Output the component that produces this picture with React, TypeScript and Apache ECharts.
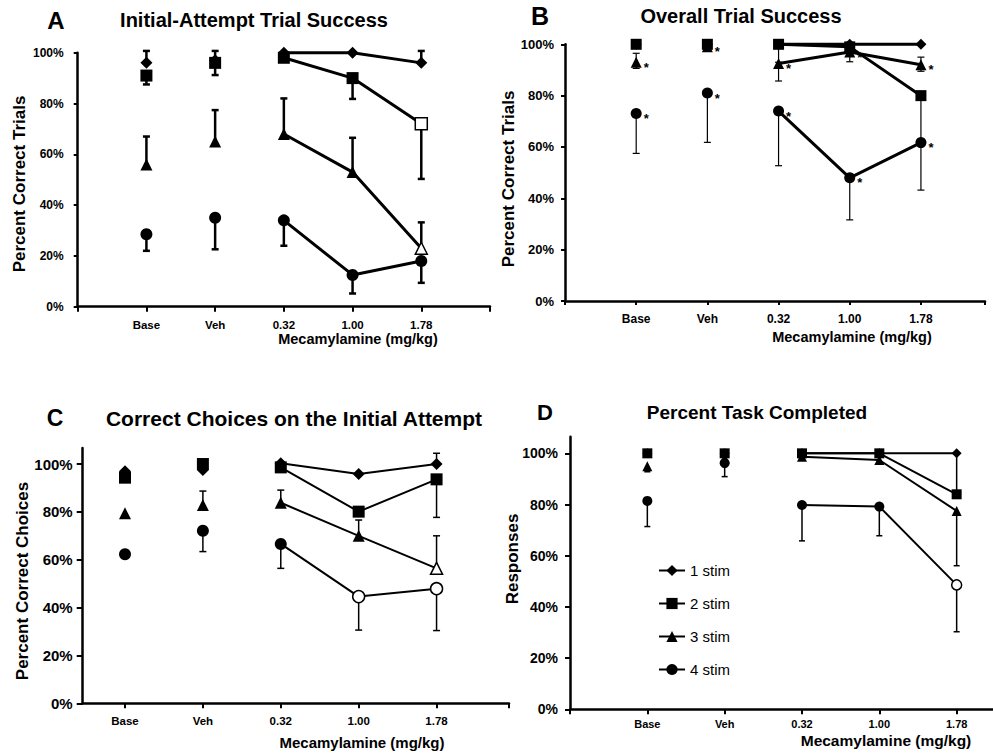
import React, { useEffect, useRef } from 'react';
import * as echarts from 'echarts';

const categories = ['Base', 'Veh', '0.32', '1.00', '1.78'];
const xPos = [1, 2, 3, 4, 5];
const stimNames = ['1 stim', '2 stim', '3 stim', '4 stim'];
const yTicks = [0, 20, 40, 60, 80, 100];

// Panel A: Initial-Attempt Trial Success
const aStim1 = [96, 97, 100, 100, 96];
const aStim2 = [91, 96, 98, 90, 72];
const aStim3 = [56, 65, 68, 53, 23];
const aStim4 = [28.5, 35, 34, 12.5, 18];
const aErr1 = [[0, 100.7], [1, 100.7], [4, 100.7]];
const aErr2 = [[0, 87.5], [1, 91.2], [3, 81.8], [4, 50.3]];
const aErr3 = [[0, 67], [1, 77.4], [2, 82], [3, 66.5], [4, 33.2]];
const aErr4 = [[0, 22], [1, 22.6], [2, 24], [3, 5.2], [4, 9.4]];
const aOpen = [[1, 4], [2, 4]];

// Panel B: Overall Trial Success
const bStim1 = [100, 100, 100, 100, 100];
const bStim2 = [100, 100, 100, 99, 80];
const bStim3 = [93, 99, 92.5, 97, 92];
const bStim4 = [73, 81, 74, 48, 61.7];
const bErr1: number[][] = [];
const bErr2 = [[2, 93], [4, 62]];
const bErr3 = [[0, 96.5], [0, 90.6], [2, 85.7], [3, 93.2], [4, 95], [4, 89.5]];
const bErr4 = [[0, 57.5], [1, 61.8], [2, 52.7], [3, 31.6], [4, 43.2]];
const bOpen: number[][] = [];
const bStars = [[2, 0], [2, 1], [2, 2], [2, 3], [2, 4], [3, 0], [3, 1], [3, 2], [3, 3], [3, 4]];

// Panel C: Correct Choices on the Initial Attempt
const cStim1 = [97, 97.5, 100.3, 95.8, 100];
const cStim2 = [94.3, 100, 98.6, 80.1, 93.6];
const cStim3 = [79.4, 82.9, 83.8, 70, 56.4];
const cStim4 = [62.3, 72.1, 66.6, 44.6, 47.9];
const cErr1 = [[4, 104.5]];
const cErr2 = [[4, 77.7]];
const cErr3 = [[1, 88.7], [2, 89.1], [3, 76.6], [4, 70]];
const cErr4 = [[1, 63.4], [2, 56.4], [3, 30.6], [4, 30.4]];
const cOpen = [[2, 4], [3, 3], [3, 4]];

// Panel D: Percent Task Completed
const dStim1 = [100, 100, 100, 100, 100];
const dStim2 = [100, 100, 100, 100, 84];
const dStim3 = [95, 98, 98.7, 97.4, 77.5];
const dStim4 = [81.4, 96.2, 79.8, 79.2, 48.6];
const dErr1: number[][] = [];
const dErr2 = [[4, 100]];
const dErr3 = [[0, 92.8], [4, 56.1]];
const dErr4 = [[0, 71.4], [1, 90.9], [2, 65.8], [3, 67.8], [4, 30.3]];
const dOpen = [[3, 4]];

const FONT = 'Liberation Sans, Arial, Helvetica, sans-serif';
const SYMBOLS = ['diamond', 'rect', 'triangle', 'circle'];

const panels = [
  {
    grid: { left: 570, top: 436.7, width: 423, height: 272.6 },
    xMin: 0, xMax: 5.47, xTicks: [0, 1, 2, 3, 4, 5], yMax: 106.5,
    values: [dStim1, dStim2, dStim3, dStim4], errs: [dErr1, dErr2, dErr3, dErr4], open: dOpen, stars: [] as number[][],
    lineW: 2, errW: 1.5, cap: 6, sym: 10, yTickLen: 5, xTickLen: 5,
    yLabelSize: 14, yLabelMargin: 12, xLabelSize: 11, xLabelMargin: 9,
  },
  {
    grid: { left: 77.7, top: 52.7, width: 412.3, height: 254 },
    xMin: 0, xMax: 6, xTicks: [0, 1, 2, 3, 4, 5, 6], yMax: 100,
    values: [aStim1, aStim2, aStim3, aStim4], errs: [aErr1, aErr2, aErr3, aErr4], open: aOpen, stars: [] as number[][],
    lineW: 3, errW: 2.5, cap: 7, sym: 12, yTickLen: 4, xTickLen: 5,
    yLabelSize: 12, yLabelMargin: 14, xLabelSize: 11.5, xLabelMargin: 12,
  },
  {
    grid: { left: 565, top: 44.3, width: 420, height: 256.7 },
    xMin: 0, xMax: 5.9, xTicks: [0, 1, 2, 3, 4, 5, 5.9], yMax: 100,
    values: [bStim1, bStim2, bStim3, bStim4], errs: [bErr1, bErr2, bErr3, bErr4], open: bOpen, stars: bStars,
    lineW: 3, errW: 1.2, cap: 7, sym: 11, yTickLen: 4, xTickLen: 4,
    yLabelSize: 13, yLabelMargin: 11, xLabelSize: 12, xLabelMargin: 12,
  },
  {
    grid: { left: 82.7, top: 448, width: 426.3, height: 255.3 },
    xMin: 0.457, xMax: 5.93, xTicks: [1, 2, 3, 4, 5, 5.93], yMax: 106.7,
    values: [cStim1, cStim2, cStim3, cStim4], errs: [cErr1, cErr2, cErr3, cErr4], open: cOpen, stars: [] as number[][],
    lineW: 2, errW: 1.5, cap: 7, sym: 12, yTickLen: 6, xTickLen: 5,
    yLabelSize: 15, yLabelMargin: 10, xLabelSize: 11.5, xLabelMargin: 12,
  },
];

function txt(text: string, x: number, y: number, size: number, rotation = 0, weight = 'bold') {
  return {
    type: 'text', x, y, rotation,
    style: { text, fill: '#000', fontSize: size, fontWeight: weight, fontFamily: FONT, align: 'center', verticalAlign: 'middle' },
  };
}

function buildOption() {
  const grids: any[] = [];
  const xAxes: any[] = [];
  const yAxes: any[] = [];
  const series: any[] = [];

  panels.forEach((p, gi) => {
    grids.push({ ...p.grid, containLabel: false });
    xAxes.push({
      type: 'value', gridIndex: gi, min: p.xMin, max: p.xMax,
      axisLine: { show: true, onZero: false, lineStyle: { color: '#000', width: 2.5 } },
      axisTick: { show: true, inside: false, length: p.xTickLen, customValues: p.xTicks, lineStyle: { color: '#000', width: 2 } },
      axisLabel: {
        customValues: xPos, margin: p.xLabelMargin, fontSize: p.xLabelSize, fontWeight: 'bold', color: '#000', fontFamily: FONT,
        formatter: (v: number) => categories[Math.round(v) - 1] || '',
      },
      splitLine: { show: false },
    });
    yAxes.push({
      type: 'value', gridIndex: gi, min: 0, max: p.yMax,
      axisLine: { show: true, onZero: false, lineStyle: { color: '#000', width: 2.5 } },
      axisTick: { show: true, inside: false, length: p.yTickLen, customValues: yTicks, lineStyle: { color: '#000', width: 2 } },
      axisLabel: {
        customValues: yTicks, margin: p.yLabelMargin, fontSize: p.yLabelSize, fontWeight: 'bold', color: '#000', fontFamily: FONT,
        formatter: (v: number) => v + '%',
      },
      splitLine: { show: false },
    });

    // error bars
    const errData: number[][] = [];
    p.errs.forEach((list, s) => {
      list.forEach(([xi, end]) => errData.push([xPos[xi], p.values[s][xi], end]));
    });
    series.push({
      type: 'custom', xAxisIndex: gi, yAxisIndex: gi, z: 1, silent: true, clip: false,
      encode: { x: 0, y: 1 },
      data: errData,
      renderItem: (params: any, api: any) => {
        const x = api.value(0), y = api.value(1), e = api.value(2);
        const p0 = api.coord([x, y]);
        const p1 = api.coord([x, e]);
        const hw = p.cap / 2;
        return {
          type: 'group',
          children: [
            { type: 'line', shape: { x1: p0[0], y1: p0[1], x2: p1[0], y2: p1[1] }, style: { stroke: '#000', lineWidth: p.errW } },
            { type: 'line', shape: { x1: p1[0] - hw, y1: p1[1], x2: p1[0] + hw, y2: p1[1] }, style: { stroke: '#000', lineWidth: p.errW } },
          ],
        };
      },
    });

    p.values.forEach((vals, s) => {
      const makeItem = (xi: number) => {
        const item: any = { value: [xPos[xi], vals[xi]] };
        if (p.open.some(([os, ox]) => os === s && ox === xi)) {
          item.itemStyle = { color: '#fff', borderColor: '#000', borderWidth: 1.5, opacity: 1 };
        }
        if (p.stars.some(([ss, sx]) => ss === s && sx === xi)) {
          item.label = {
            show: true, formatter: '*', position: 'right', distance: 2, offset: [0, 5],
            fontSize: 13, fontWeight: 'bold', color: '#000', fontFamily: FONT,
          };
        }
        return item;
      };
      series.push({
        type: 'line', name: stimNames[s], xAxisIndex: gi, yAxisIndex: gi, z: 2 + s,
        symbol: SYMBOLS[s], symbolSize: p.sym, showSymbol: true, clip: false,
        lineStyle: { color: '#000', width: p.lineW },
        itemStyle: { color: '#000', opacity: 1 },
        emphasis: { disabled: true },
        data: [2, 3, 4].map(makeItem),
      });
      series.push({
        type: 'scatter', name: stimNames[s] + ' pre', xAxisIndex: gi, yAxisIndex: gi, z: 2 + s,
        symbol: SYMBOLS[s], symbolSize: p.sym, clip: false,
        itemStyle: { color: '#000', opacity: 1 },
        emphasis: { disabled: true },
        data: [0, 1].map(makeItem),
      });
    });
  });

  const graphics = [
    txt('A', 56, 20, 24),
    txt('Initial-Attempt Trial Success', 254, 20, 20),
    txt('B', 540, 16, 25),
    txt('Overall Trial Success', 741, 16, 20),
    txt('C', 55, 418, 23),
    txt('Correct Choices on the Initial Attempt', 294, 418, 21),
    txt('D', 545, 412, 22),
    txt('Percent Task Completed', 757, 412, 19),
    txt('Percent Correct Trials', 19, 184, 17, Math.PI / 2),
    txt('Percent Correct Trials', 508, 179, 17, Math.PI / 2),
    txt('Percent Correct Choices', 22, 581, 17, Math.PI / 2),
    txt('Responses', 512, 559, 17, Math.PI / 2),
    txt('Mecamylamine (mg/kg)', 358, 339, 14.5),
    txt('Mecamylamine (mg/kg)', 852, 337, 14.5),
    txt('Mecamylamine (mg/kg)', 362, 742.5, 15),
    txt('Mecamylamine (mg/kg)', 886, 740, 15.5),
  ];

  return {
    animation: false,
    backgroundColor: '#fff',
    grid: grids,
    xAxis: xAxes,
    yAxis: yAxes,
    series,
    legend: {
      data: stimNames,
      orient: 'vertical', left: 653, top: 558, itemWidth: 26, itemHeight: 14, itemGap: 18,
      selectedMode: false,
      textStyle: { fontSize: 15, color: '#000', fontFamily: FONT },
    },
    graphic: graphics,
  };
}

export default function App() {
  const ref = useRef<HTMLDivElement>(null);
  useEffect(() => {
    if (!ref.current) return;
    const chart = echarts.init(ref.current, undefined, { renderer: 'svg' });
    chart.setOption(buildOption() as any);
    return () => chart.dispose();
  }, []);
  return <div ref={ref} style={{ position: 'absolute', left: 0, top: 0, width: 993, height: 754, background: '#fff' }} />;
}
